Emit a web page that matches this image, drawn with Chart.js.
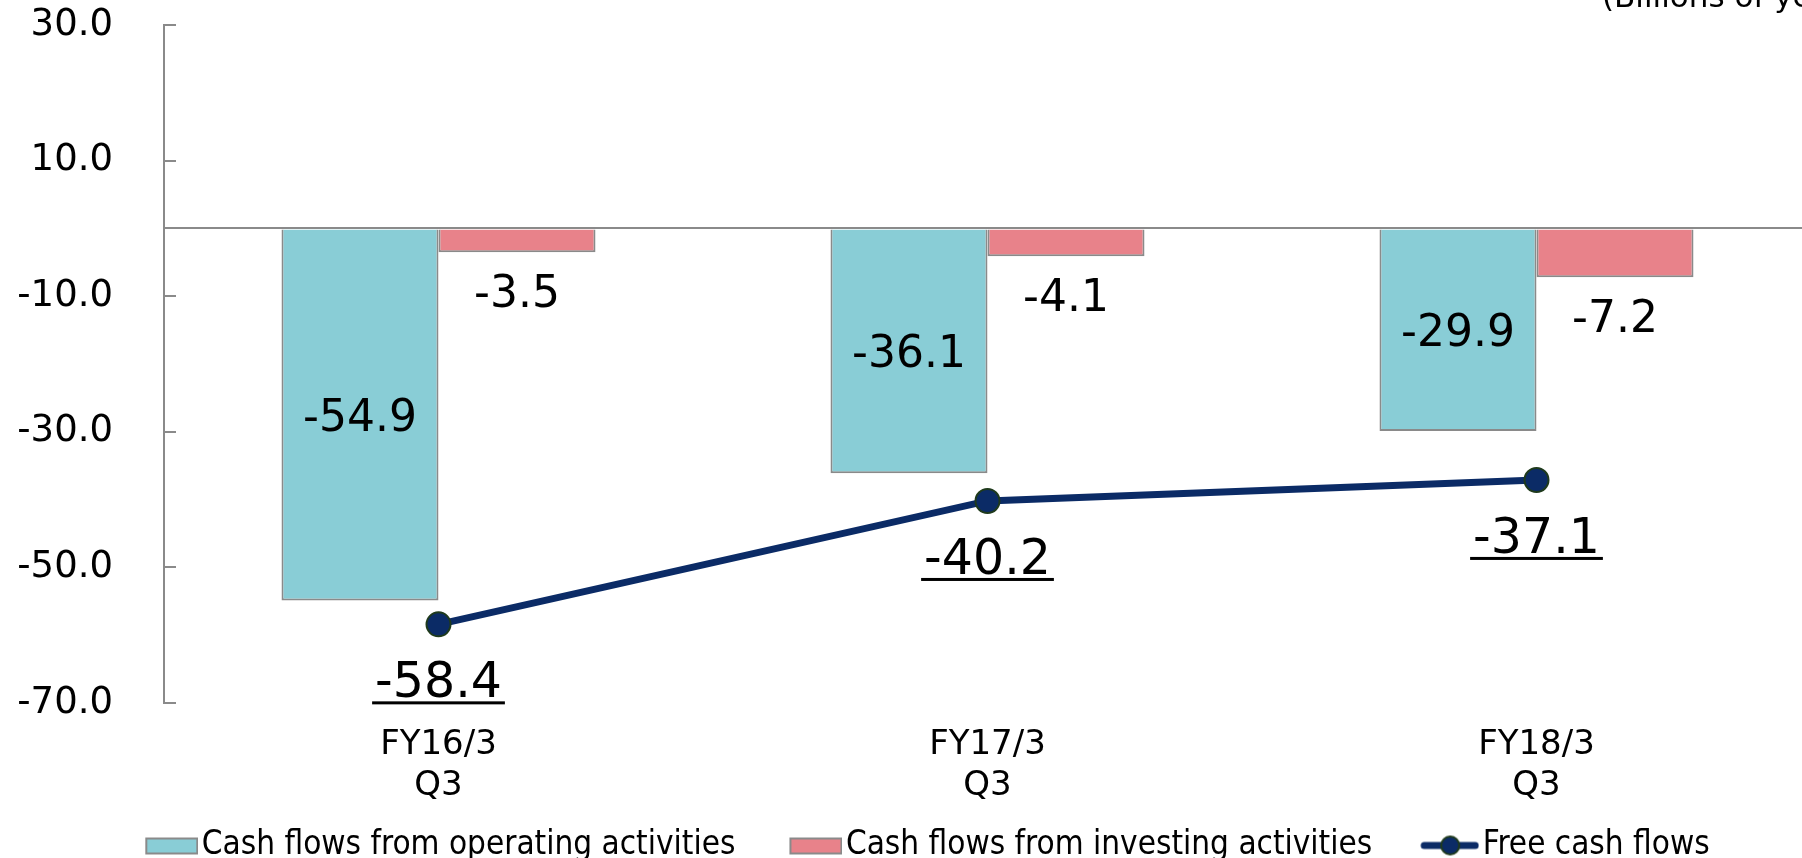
<!DOCTYPE html>
<html>
<head>
<meta charset="utf-8">
<script src="https://cdn.jsdelivr.net/npm/chart.js@4/dist/chart.umd.min.js"></script>
<style>
  html, body { margin: 0; padding: 0; background: #ffffff; overflow: hidden; }
  #wrap { width: 1811px; height: 872px; }
</style>
</head>
<body>
<div id="wrap"><canvas id="cfChart" width="1811" height="872"></canvas></div>
<script>
/* ── DATA ───────────────────────────────────────────────────── */
const CATEGORIES  = [['FY16/3', 'Q3'], ['FY17/3', 'Q3'], ['FY18/3', 'Q3']];
const OPERATING   = [-54.9, -36.1, -29.9];
const INVESTING   = [-3.5, -4.1, -7.2];
const FREE_CASH   = [-58.4, -40.2, -37.1];
const Y_TICKS     = [-70, -50, -30, -10, 10, 30];
const SERIES_NAMES = [
  'Cash flows from operating activities',
  'Cash flows from investing activities',
  'Free cash flows',
];
const UNIT_NOTE = '(Billions of yen)';

/* ── COLOURS / FONT ─────────────────────────────────────────── */
const C_OPER  = '#89cdd6';
const C_INV   = '#e8828a';
const C_LINE  = '#0b2b66';
const C_PTBRD = '#1f3a1c';
const C_AXIS  = '#8a8a8a';
const FONT    = "'DejaVu Sans', Verdana, sans-serif";
const FONT_NARROW = "'DejaVu Sans Condensed', 'DejaVu Sans', sans-serif";

Chart.defaults.font.family = FONT;
Chart.defaults.color = '#000000';

/* ── LEGEND ICONS ───────────────────────────────────────────── */
/* Legend swatches drawn on small canvases; the visible part sits at the right end */
const BOX_W = 84, ICON_W = BOX_W + 26, ICON_H = 26;

function rectIcon(fill) {
  const c = document.createElement('canvas');
  c.width = ICON_W; c.height = ICON_H;
  const g = c.getContext('2d');
  g.fillStyle = fill;
  g.fillRect(ICON_W - 53, 5, 53, 17);
  g.strokeStyle = C_AXIS; g.lineWidth = 2;
  g.strokeRect(ICON_W - 52, 6, 51, 15);
  return c;
}

function lineIcon() {
  const c = document.createElement('canvas');
  c.width = ICON_W; c.height = ICON_H;
  const g = c.getContext('2d');
  g.strokeStyle = C_LINE; g.lineWidth = 7; g.lineCap = 'round';
  g.beginPath(); g.moveTo(ICON_W - 55, 13); g.lineTo(ICON_W - 4, 13); g.stroke();
  g.beginPath(); g.arc(ICON_W - 29, 13, 9, 0, Math.PI * 2);
  g.fillStyle = C_LINE; g.fill();
  g.strokeStyle = C_PTBRD; g.lineWidth = 2; g.stroke();
  return c;
}

const LEGEND_ICONS = [rectIcon(C_OPER), rectIcon(C_INV), lineIcon()];

/* ── VALUE LABELS PLUGIN ────────────────────────────────────── */
const valueLabels = {
  id: 'valueLabels',
  afterDatasetsDraw(chart) {
    const ctx = chart.ctx;
    ctx.save();
    ctx.fillStyle = '#000000';
    ctx.textAlign = 'center';
    ctx.textBaseline = 'alphabetic';

    /* operating: centred inside the bar */
    ctx.font = `44px ${FONT}`;
    chart.getDatasetMeta(0).data.forEach((bar, i) => {
      const mid = (bar.y + bar.base) / 2;
      ctx.fillText(OPERATING[i].toFixed(1), bar.x, mid + 44 * 0.729 / 2);
    });

    /* investing: below the bar end */
    chart.getDatasetMeta(1).data.forEach((bar, i) => {
      ctx.fillText(INVESTING[i].toFixed(1), bar.x, bar.y + 55);
    });

    /* free cash flows: larger, underlined, below the point */
    ctx.font = `49px ${FONT}`;
    chart.getDatasetMeta(2).data.forEach((pt, i) => {
      const txt = FREE_CASH[i].toFixed(1);
      const base = pt.y + 73;
      ctx.fillText(txt, pt.x, base);
      const w = ctx.measureText(txt).width;
      ctx.fillRect(pt.x - w / 2 - 3, base + 4, w + 6, 3);
    });

    /* unit note, cropped at the top right */
    ctx.font = `31px ${FONT}`;
    ctx.textAlign = 'left';
    ctx.fillText(UNIT_NOTE, 1602, 7);
    ctx.restore();
  },
};

/* ── CHART ──────────────────────────────────────────────────── */
new Chart(document.getElementById('cfChart'), {
  type: 'bar',
  data: {
    labels: CATEGORIES,
    datasets: [
      {
        label: SERIES_NAMES[0],
        data: OPERATING,
        backgroundColor: C_OPER,
        borderColor: C_AXIS,
        borderWidth: 2,
        categoryPercentage: 0.572,
        barPercentage: 1,
        order: 1,
      },
      {
        label: SERIES_NAMES[1],
        data: INVESTING,
        backgroundColor: C_INV,
        borderColor: C_AXIS,
        borderWidth: 2,
        categoryPercentage: 0.572,
        barPercentage: 1,
        order: 1,
      },
      {
        type: 'line',
        label: SERIES_NAMES[2],
        data: FREE_CASH,
        borderColor: C_LINE,
        borderWidth: 7,
        pointRadius: 12,
        pointBackgroundColor: C_LINE,
        pointBorderColor: C_PTBRD,
        pointBorderWidth: 2,
        tension: 0,
        order: 0,
      },
    ],
  },
  options: {
    responsive: false,
    animation: false,
    devicePixelRatio: 1,
    layout: { autoPadding: false, padding: { top: 25, left: 0, right: 0, bottom: 0 } },
    plugins: {
      tooltip: { enabled: false },
      legend: {
        position: 'bottom',
        labels: {
          usePointStyle: true,
          pointStyleWidth: BOX_W,
          padding: 10,
          color: '#000000',
          font: { size: 33, family: FONT_NARROW },
          sort: (a, b) => a.datasetIndex - b.datasetIndex,
          generateLabels(chart) {
            const items = Chart.defaults.plugins.legend.labels.generateLabels(chart);
            items.forEach(it => { it.pointStyle = LEGEND_ICONS[it.datasetIndex]; });
            return items;
          },
        },
      },
    },
    scales: {
      x: {
        grid: { display: false },
        border: { display: false },
        ticks: { padding: 14, font: { size: 34, lineHeight: 1.2 }, color: '#000000' },
        afterFit(scale) {
          scale.height = 116;
          scale.paddingLeft = 0;
          scale.paddingRight = 0;
        },
      },
      y: {
        min: -70,
        max: 30,
        /* the zero line is drawn as an extra, unlabelled grid line */
        afterBuildTicks(scale) {
          scale.ticks = Y_TICKS.concat([0]).sort((a, b) => a - b).map(v => ({ value: v }));
        },
        grid: {
          tickLength: -12,
          lineWidth: 2,
          tickColor: C_AXIS,
          color: c => (c.tick && c.tick.value === 0 ? C_AXIS : 'rgba(0,0,0,0)'),
        },
        border: { color: C_AXIS, width: 2 },
        ticks: {
          padding: 63,
          font: { size: 37 },
          color: '#000000',
          callback: v => (v === 0 ? '' : Number(v).toFixed(1)),
        },
        afterFit(scale) {
          scale.width = 164;
          scale.paddingTop = 0;
          scale.paddingBottom = 0;
        },
      },
    },
  },
  plugins: [valueLabels],
});
</script>
</body>
</html>
